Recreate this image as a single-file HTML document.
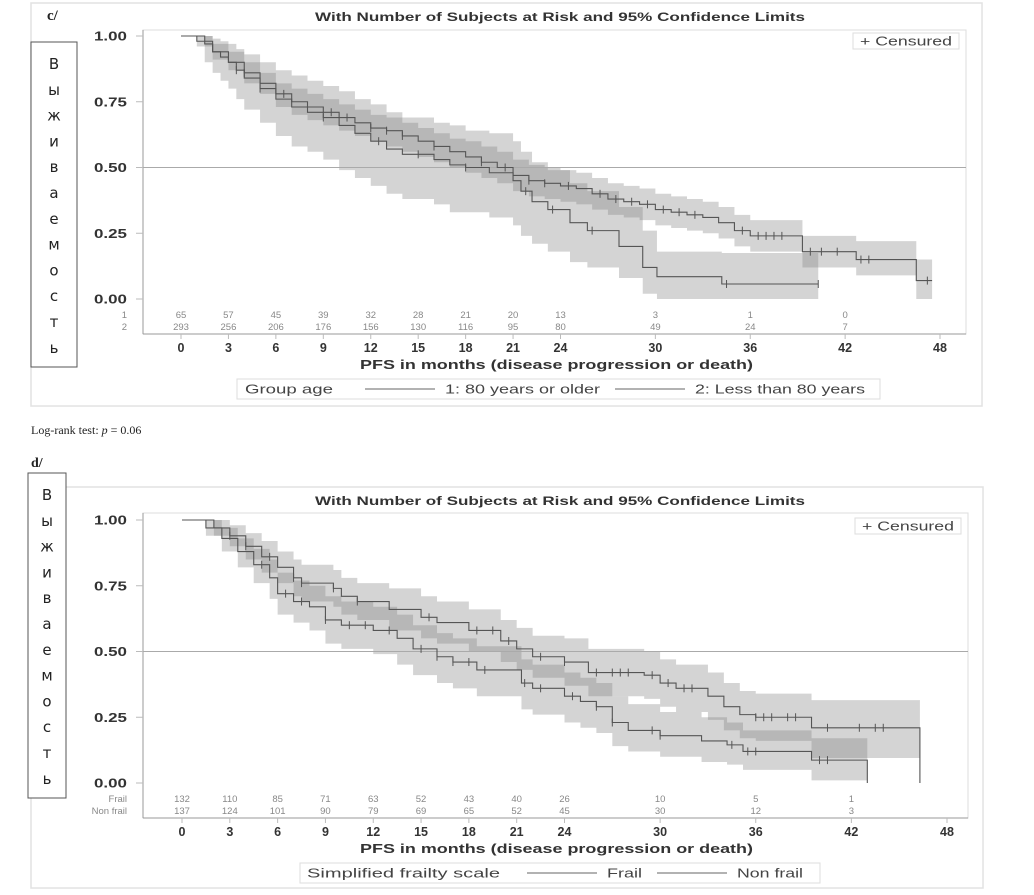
<!DOCTYPE html>
<html><head><meta charset="utf-8"><style>
html,body{margin:0;padding:0;background:#fff;}
svg{display:block;font-family:"Liberation Sans",sans-serif;}
.tk{font-size:12.5px;font-weight:bold;fill:#333;}
.risk{font-size:9.5px;fill:#888;}
.ttl{font-size:12px;font-weight:bold;fill:#333;}
.lg{font-size:12.5px;fill:#444;}
.ru{font-family:"DejaVu Sans","Liberation Sans",sans-serif;font-size:15px;fill:#222;}
</style></head><body>
<svg id="chart" width="1034" height="895" viewBox="0 0 1034 895"></svg>
<script>
// ---------- Panel c data ----------
const timesC1 = [0,1.5,2,2.5,3,3.5,4,5,6,7,8,9,10,11,12,13,14,16,17,18,19.5,21,21.5,22.2,23.2,24.6,25.7,27.7,29.2,30.1,34.2];
const survC1  = [1,.97,.94,.92,.90,.87,.84,.80,.76,.73,.71,.69,.66,.63,.60,.57,.55,.53,.51,.50,.48,.45,.41,.37,.34,.29,.26,.20,.12,.085,.057];
const lowC1   = [1,.90,.86,.83,.80,.76,.72,.67,.62,.58,.56,.53,.49,.46,.43,.40,.38,.36,.33,.33,.31,.28,.24,.21,.18,.14,.12,.08,.02,0,0];
const highC1  = [1,1,.99,.98,.97,.95,.93,.90,.87,.85,.83,.81,.79,.76,.74,.71,.69,.67,.66,.64,.63,.60,.56,.52,.49,.44,.41,.35,.26,.18,.175];
const endC1 = 40.3;
const censC1 = [3.5,5,9,12.5,15,18,21.8,23.5,26,34.5,40.3];

const timesC2 = [0,1,2,3,4,5,6,7,8,9,10,11,12,13,14,15,16,17,18,19,20,21,22,23,24,25,26,27,28,29,30,31,32,33,34,35,36,39.3,42.7,46.5];
const survC2  = [1,.98,.94,.90,.86,.82,.78,.75,.73,.71,.69,.67,.65,.64,.62,.60,.58,.56,.54,.52,.50,.47,.45,.44,.43,.42,.40,.38,.37,.36,.34,.33,.32,.31,.29,.26,.24,.18,.15,.07];
const lowC2   = [1,.96,.91,.87,.82,.78,.73,.70,.68,.66,.64,.62,.60,.58,.56,.54,.52,.50,.48,.46,.44,.41,.39,.38,.37,.36,.34,.32,.31,.30,.28,.27,.26,.25,.23,.20,.18,.12,.09,0];
const highC2  = [1,1,.97,.94,.90,.86,.82,.80,.78,.76,.74,.72,.70,.69,.67,.65,.63,.61,.60,.58,.56,.53,.51,.50,.49,.48,.46,.44,.43,.42,.40,.39,.38,.37,.35,.32,.30,.24,.22,.15];
const endC2 = 47.5;
const censC2 = [4,6.5,8,9.5,10.5,12,13,14,16,19,20.5,22,23,24.5,26.5,27.5,28.5,29.5,30.5,31.5,32.5,35.5,36.5,37,37.5,38,39.8,40.5,41.5,43,43.5,47.2];

const riskTimesC = [0,3,6,9,12,15,18,21,24,30,36,42];
const riskC1 = [65,57,45,39,32,28,21,20,13,3,1,0];
const riskC2 = [293,256,206,176,156,130,116,95,80,49,24,7];

// ---------- Panel d data ----------
const timesD1 = [0,1.5,2.5,3.5,4.5,5.5,6,7,8,9,10,12,13.5,14.5,16,17,18.5,21.3,22,24,25,26,27,28,30,32.6,34.2,35.2,39.5];
const survD1  = [1,.97,.93,.88,.83,.78,.72,.69,.67,.62,.60,.58,.55,.51,.48,.46,.43,.38,.36,.33,.31,.29,.23,.20,.18,.16,.145,.12,.087];
const lowD1   = [1,.94,.88,.82,.76,.70,.64,.61,.58,.53,.51,.49,.45,.41,.38,.36,.33,.28,.26,.23,.21,.19,.14,.12,.10,.08,.07,.05,.01];
const highD1  = [1,1,.97,.93,.89,.85,.80,.77,.75,.71,.69,.67,.64,.60,.57,.55,.52,.47,.45,.42,.40,.38,.33,.30,.27,.25,.23,.20,.17];
const endD1 = 43;
const censD1 = [5,6.5,7.5,9,10.5,11.5,13,15,16,17,18,19,21.5,22.5,24.5,26,27,29.5,30,34.5,35.5,36,40,40.5];

const timesD2 = [0,2,3,4,5,6,7,7.5,9.5,10,11,13,15,16,18,20,21,22,24,25.5,29,30,31,33,34,35,36,39.5];
const survD2  = [1,.97,.94,.90,.86,.82,.78,.76,.74,.71,.69,.66,.63,.61,.58,.54,.51,.48,.46,.42,.41,.38,.36,.33,.29,.26,.25,.21];
const lowD2   = [1,.94,.90,.85,.80,.76,.71,.69,.67,.64,.62,.58,.55,.53,.50,.46,.43,.40,.37,.33,.32,.29,.27,.24,.20,.17,.16,.095];
const highD2  = [1,1,.98,.95,.92,.88,.85,.83,.81,.78,.76,.74,.71,.69,.66,.62,.59,.56,.55,.51,.50,.47,.45,.42,.38,.35,.34,.315];
const endD2 = 46.3;
const censD2 = [3,4,5.5,7,7.5,9.5,11,15.5,18.5,19.5,20.5,22.5,24,26,27,27.5,28,29.5,30.5,31.5,32,36,36.5,37,38,38.5,40.5,42.5,43.5,44];

const riskTimesD = [0,3,6,9,12,15,18,21,24,30,36,42];
const riskD1 = [132,110,85,71,63,52,43,40,26,10,5,1];
const riskD2 = [137,124,101,90,79,69,65,52,45,30,12,3];

const xTicks = [0,3,6,9,12,15,18,21,24,30,36,42,48];
const yTicks = [0,0.25,0.5,0.75,1];

const NS = "http://www.w3.org/2000/svg";
const svg = document.getElementById("chart");
function mk(tag, attrs, parent){
  const e = document.createElementNS(NS, tag);
  for (const k in attrs) e.setAttribute(k, attrs[k]);
  (parent||svg).appendChild(e);
  return e;
}
function txt(x,y,s,cls,anchor,parent,len){
  const a = {x:x,y:y,class:cls,"text-anchor":anchor||"start"};
  if (len) { a.textLength = len; a.lengthAdjust = "spacingAndGlyphs"; }
  const t = mk("text",a,parent);
  t.textContent = s; return t;
}
function stepAt(times, surv, t){
  let v = surv[0];
  for (let i=0;i<times.length;i++){ if (times[i]<=t) v = surv[i]; }
  return v;
}

function drawPanel(cfg){
  const g = mk("g",{});
  
  
  const X = t => cfg.x0 + t*(cfg.x48-cfg.x0)/48;
  const Y = v => cfg.y0 - v*(cfg.y0-cfg.y1);

  const op = mk("rect",{x:cfg.px,y:cfg.py,width:cfg.pw,height:cfg.ph,fill:"none",stroke:"#e2e2e2","stroke-width":1.5},g);
   

  const tt = txt(cfg.titleX, cfg.titleY, "With Number of Subjects at Risk and 95% Confidence Limits", "ttl", "start", g, cfg.titleW);
   

  const fr = mk("rect",{x:cfg.fl,y:cfg.ft,width:cfg.fr-cfg.fl,height:cfg.fb-cfg.ft,fill:"none",stroke:"#ddd","stroke-width":1},g);
   
  const al = mk("line",{x1:cfg.fl,y1:cfg.ft,x2:cfg.fl,y2:cfg.fb,stroke:"#999","stroke-width":1},g);
   
  const ab = mk("line",{x1:cfg.fl,y1:cfg.fb,x2:cfg.fr,y2:cfg.fb,stroke:"#999","stroke-width":1},g);
   

  cfg.series.forEach((s,si)=>{
    let d = "";
    const n = s.times.length;
    for (let i=0;i<n;i++){
      const t0 = s.times[i], t1 = (i<n-1)? s.times[i+1] : s.end;
      if (s.low[i]===1 && s.high[i]===1) continue;
      d += `M${X(t0)},${Y(s.high[i])}H${X(t1)}V${Y(s.low[i])}H${X(t0)}Z`;
    }
    const b = mk("path",{d:d,fill:"rgb(130,130,130)","fill-opacity":0.34,stroke:"none"},g);
    
    
  });

  const rl = mk("line",{x1:cfg.fl,y1:Y(0.5),x2:cfg.fr,y2:Y(0.5),stroke:"#aaa","stroke-width":1},g);
   

  cfg.series.forEach(s=>{
    let d = `M${X(s.times[0])},${Y(s.surv[0])}`;
    for (let i=1;i<s.times.length;i++){
      d += `H${X(s.times[i])}V${Y(s.surv[i])}`;
    }
    d += `H${X(s.end)}`;
    if (s.dropTo0) d += `V${Y(0)}`;
    const p = mk("path",{d:d,fill:"none",stroke:"#555","stroke-width":1.1},g);
    
    
    s.cens.forEach(t=>{
      const v = stepAt(s.times,s.surv,t);
      const c = mk("line",{x1:X(t),y1:Y(v)-4,x2:X(t),y2:Y(v)+4,stroke:"#555","stroke-width":1},g);
      
      
    });
  });

  yTicks.forEach(v=>{
    const tl = mk("line",{x1:cfg.fl-7,y1:Y(v),x2:cfg.fl,y2:Y(v),stroke:"#bbb"},g);
     
    const lb = txt(cfg.fl-16, Y(v)+4.5, v.toFixed(2), "tk", "end", g, 33);
     
  });
  xTicks.forEach(t=>{
    const tl = mk("line",{x1:X(t),y1:cfg.fb,x2:X(t),y2:cfg.fb+5,stroke:"#bbb"},g);
     
    const lb = txt(X(t), cfg.fb+18, String(t), "tk", "middle", g);
     
  });
  const xt = txt(cfg.xtX, cfg.fb+35, "PFS in months (disease progression or death)", "tk", "start", g, 393);
   

  cfg.risk.forEach((row,ri)=>{
    const ry = cfg.fb - 16 + ri*12;
    const rlb = txt(cfg.fl-16, ry, row.label, "risk", "end", g);
     
    row.vals.forEach((v,i)=>{
      const rt = txt(X(cfg.riskTimes[i]), ry, String(v), "risk", "middle", g);
       
    });
  });

  const cl = mk("g",{},g);
   
  mk("rect",{x:cfg.cx,y:cfg.cy,width:106,height:16,fill:"#fff",stroke:"#ddd"},cl);
  txt(cfg.cx+7, cfg.cy+12.5, "+ Censured", "lg", "start", cl, 92);

  const lg = mk("g",{},g);
   
  mk("rect",{x:cfg.lx,y:cfg.ly,width:cfg.lw,height:20,fill:"#fff",stroke:"#ddd"},lg);
  cfg.legItems.forEach(it=>{
    if (it.line) { const l = mk("line",{x1:it.x,y1:cfg.ly+10,x2:it.x+70,y2:cfg.ly+10,stroke:"#666"},lg);
        }
    else { const t = txt(it.x, cfg.ly+14.5, it.text, "lg", "start", lg, it.w);
        }
  });

  const rb = mk("g",{},g);
   
  mk("rect",{x:cfg.rx,y:cfg.ry,width:cfg.rw,height:cfg.rh,fill:"#fff",stroke:"#555","stroke-width":1},rb);
  const letters = ["В","ы","ж","и","в","а","е","м","о","с","т","ь"];
  letters.forEach((ch,i)=>{
    txt(cfg.rx+cfg.rw/2, cfg.ry+27+i*25.8, ch, "ru", "middle", rb);
  });
}

drawPanel({
  name:"panel-c-age", px:31, py:3, pw:951, ph:403, titleX:315, titleY:21, titleW:490, xtX:360,
  fl:143, fr:966, ft:30, fb:334, x0:181, x48:940, y0:299, y1:36,
  series:[
    {key:"age-80-plus", times:timesC1, surv:survC1, low:lowC1, high:highC1, end:endC1, cens:censC1, dropTo0:false},
    {key:"age-under-80", times:timesC2, surv:survC2, low:lowC2, high:highC2, end:endC2, cens:censC2, dropTo0:false}
  ],
  riskTimes:riskTimesC,
  risk:[{label:"1",vals:riskC1},{label:"2",vals:riskC2}],
  cx:853, cy:33,
  lx:237, ly:379, lw:643,
  legItems:[{x:245,text:"Group age",w:88},{x:365,line:true},{x:445,text:"1: 80 years or older",w:155},{x:615,line:true},{x:695,text:"2: Less than 80 years",w:170}],
  rx:31, ry:42, rw:46, rh:325
});

drawPanel({
  name:"panel-d-frailty", px:31, py:487, pw:952, ph:401, titleX:315, titleY:505, titleW:490, xtX:360,
  fl:143, fr:968, ft:513, fb:818, x0:182, x48:947, y0:783, y1:520,
  series:[
    {key:"frail", times:timesD1, surv:survD1, low:lowD1, high:highD1, end:endD1, cens:censD1, dropTo0:true},
    {key:"non-frail", times:timesD2, surv:survD2, low:lowD2, high:highD2, end:endD2, cens:censD2, dropTo0:true}
  ],
  riskTimes:riskTimesD,
  risk:[{label:"Frail",vals:riskD1},{label:"Non frail",vals:riskD2}],
  cx:855, cy:518,
  lx:300, ly:863, lw:520,
  legItems:[{x:307,text:"Simplified frailty scale",w:193},{x:527,line:true},{x:607,text:"Frail",w:35},{x:657,line:true},{x:737,text:"Non frail",w:66}],
  rx:28, ry:473, rw:38, rh:325
});

const lc = mk("text",{x:47,y:20,"font-family":"Liberation Serif, serif","font-size":"15","font-weight":"bold",fill:"#222"});
lc.textContent = "c/";
 
const lr = mk("text",{x:31,y:434,"font-family":"Liberation Serif, serif","font-size":"12",fill:"#222"});
lr.innerHTML = 'Log-rank test: <tspan font-style="italic">p</tspan> = 0.06';
 
const ld = mk("text",{x:31,y:467,"font-family":"Liberation Serif, serif","font-size":"14","font-weight":"bold",fill:"#222"});
ld.textContent = "d/";
 
</script>
</body></html>
